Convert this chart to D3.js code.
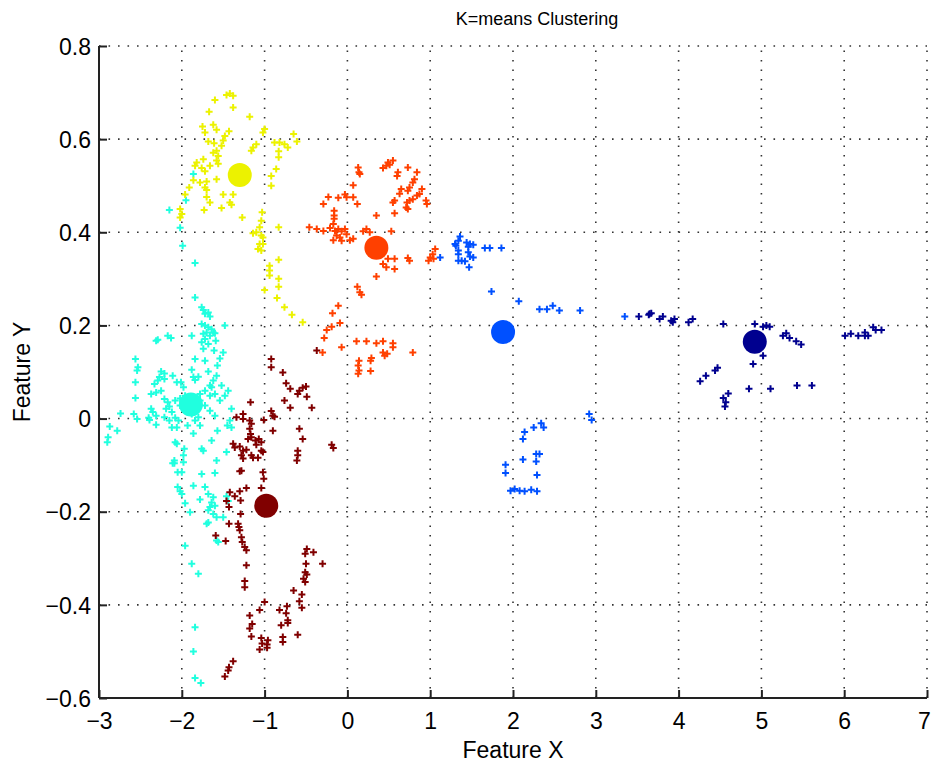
<!DOCTYPE html>
<html>
<head>
<meta charset="utf-8">
<script src="https://cdn.jsdelivr.net/npm/d3@7"></script>
<style>
    body { margin: 0; background: #fff; }
    text { font-family: "Liberation Sans", Arial, sans-serif; fill: #000; }
</style>
</head>
<body>
<script>
// tick values
var xTicks = [-3, -2, -1, 0, 1, 2, 3, 4, 5, 6, 7]
var yTicks = [-0.6, -0.4, -0.2, 0, 0.2, 0.4, 0.6, 0.8]

// cluster colours (jet-like) and centroids
var clusterColors = ["#00008f", "#0050ff", "#20ffdf", "#ecf200", "#ff4000", "#800000"]
var centroids = [[4.92, 0.165], [1.88, 0.186], [-1.89, 0.030], [-1.30, 0.523], [0.35, 0.367], [-0.98, -0.187]]

var navyPts = [[3.52,0.219],[3.65,0.225],[3.67,0.226],[3.64,0.223],[3.77,0.214],[3.81,0.219],[3.91,0.210],[3.93,0.207],[3.95,0.214],[4.12,0.207],[4.17,0.214],[4.54,0.203],[4.92,0.203],[5.02,0.197],[5.06,0.200],[5.10,0.197],[5.26,0.178],[5.30,0.183],[5.34,0.173],[5.42,0.166],[5.48,0.159],[5.02,0.135],[4.90,0.117],[4.44,0.103],[4.47,0.109],[4.33,0.092],[4.26,0.080],[4.60,0.054],[4.54,0.044],[4.57,0.035],[4.56,0.026],[4.85,0.064],[5.11,0.064],[5.43,0.071],[5.61,0.071],[6.01,0.178],[6.08,0.182],[6.17,0.178],[6.25,0.185],[6.25,0.178],[6.29,0.178],[6.35,0.196],[6.38,0.190],[6.45,0.190]]

var bluePts = [[1.30,0.375],[1.34,0.382],[1.36,0.391],[1.31,0.371],[1.44,0.378],[1.48,0.375],[1.52,0.373],[1.46,0.369],[1.34,0.361],[1.34,0.353],[1.34,0.339],[1.38,0.339],[1.42,0.338],[1.46,0.357],[1.48,0.348],[1.52,0.346],[1.47,0.325],[1.66,0.366],[1.72,0.366],[1.86,0.366],[1.12,0.346],[1.74,0.273],[2.07,0.252],[2.32,0.235],[2.41,0.235],[2.48,0.242],[2.56,0.232],[2.81,0.232],[3.35,0.219],[2.92,0.010],[2.95,-0.003],[2.34,-0.010],[2.37,-0.019],[2.25,-0.019],[2.14,-0.029],[2.12,-0.044],[2.28,-0.076],[2.32,-0.076],[2.28,-0.092],[2.12,-0.088],[1.91,-0.099],[1.91,-0.117],[2.29,-0.121],[1.97,-0.155],[2.02,-0.151],[2.08,-0.155],[2.14,-0.156],[2.22,-0.153],[2.29,-0.156]]

var cyanPts = [[-1.86,0.525],[-1.95,0.469],[-2.15,0.448],[-2.02,0.410],[-1.99,0.371],[-1.84,0.334],[-1.84,0.260],[-1.76,0.239],[-1.74,0.233],[-1.68,0.228],[-1.72,0.225],[-1.66,0.219],[-1.76,0.203],[-1.72,0.200],[-1.68,0.196],[-1.64,0.192],[-1.62,0.185],[-1.70,0.185],[-1.74,0.182],[-1.66,0.178],[-1.60,0.183],[-1.72,0.171],[-1.76,0.164],[-1.68,0.160],[-1.74,0.150],[-1.48,0.200],[-1.88,0.178],[-2.31,0.167],[-2.29,0.169],[-2.17,0.178],[-2.13,0.173],[-1.50,0.142],[-2.56,0.128],[-2.53,0.110],[-2.54,0.103],[-1.84,0.128],[-1.72,0.124],[-1.68,0.101],[-1.88,0.105],[-2.25,0.101],[-2.21,0.097],[-2.27,0.089],[-2.29,0.082],[-2.33,0.074],[-2.21,0.085],[-2.11,0.092],[-1.86,0.089],[-1.80,0.090],[-1.84,0.083],[-1.62,0.082],[-1.58,0.092],[-1.64,0.067],[-1.60,0.053],[-1.66,0.049],[-1.72,0.060],[-1.78,0.053],[-2.56,0.078],[-2.06,0.078],[-2.37,0.053],[-2.31,0.056],[-2.25,0.060],[-2.01,0.078],[-1.98,0.067],[-2.21,0.042],[-2.17,0.035],[-2.15,0.026],[-2.19,0.021],[-2.12,0.014],[-2.56,0.044],[-2.37,0.021],[-2.35,0.014],[-1.40,0.021],[-2.74,0.011],[-2.58,0.010],[-2.54,-0.001],[-2.40,0.002],[-2.39,-0.003],[-2.31,0.006],[-2.31,-0.013],[-2.21,0.003],[-2.15,-0.004],[-2.08,0.002],[-2.06,-0.019],[-2.12,-0.019],[-2.04,-0.004],[-1.84,-0.004],[-1.80,0.003],[-1.88,0.010],[-1.42,-0.004],[-1.45,-0.015],[-1.40,-0.019],[-2.87,-0.017],[-2.89,-0.040],[-2.90,-0.051],[-2.78,-0.026],[-1.86,-0.032],[-2.08,-0.051],[-2.06,-0.054],[-1.76,-0.065],[-1.74,-0.069],[-1.97,-0.065],[-1.98,-0.079],[-1.46,-0.072],[-2.09,-0.090],[-2.09,-0.096],[-2.11,-0.096],[-1.98,-0.094],[-1.58,-0.090],[-2.05,-0.115],[-2.00,-0.115],[-1.76,-0.119],[-1.60,-0.117],[-1.86,-0.144],[-2.05,-0.147],[-2.02,-0.156],[-2.00,-0.162],[-1.68,-0.162],[-1.62,-0.169],[-1.64,-0.180],[-1.60,-0.187],[-1.66,-0.190],[-1.68,-0.197],[-1.62,-0.205],[-1.58,-0.212],[-1.72,-0.147],[-1.78,-0.174],[-1.96,-0.182],[-1.90,-0.201],[-1.50,-0.212],[-1.46,-0.167],[-1.44,-0.177],[-1.70,-0.226],[-1.68,-0.223],[-1.58,-0.262],[-1.56,-0.265],[-1.96,-0.273],[-1.88,-0.312],[-1.80,-0.333],[-1.84,-0.448],[-1.86,-0.500],[-1.84,-0.557],[-1.77,-0.568],[-2.08,0.039],[-2.02,0.028],[-1.96,0.017],[-1.54,0.039],[-1.48,0.049],[-1.44,0.060],[-1.52,0.071],[-1.72,0.028],[-1.66,0.017],[-1.60,0.006],[-1.78,-0.015],[-1.93,-0.015],[-1.57,-0.026],[-1.64,-0.047],[-1.96,0.049],[-1.78,0.039],[-2.02,0.043],[-1.84,0.028],[-1.66,0.071],[-1.57,0.114],[-1.54,0.129],[-1.61,0.146],[-1.59,0.167]]

var yellowPts = [[-1.60,0.684],[-1.46,0.695],[-1.42,0.698],[-1.38,0.693],[-1.38,0.668],[-1.67,0.659],[-1.18,0.648],[-1.75,0.627],[-1.72,0.614],[-1.62,0.631],[-1.58,0.620],[-1.48,0.607],[-1.43,0.617],[-1.50,0.597],[-1.00,0.622],[-1.02,0.614],[-0.65,0.611],[-0.61,0.595],[-0.88,0.593],[-0.82,0.593],[-0.76,0.589],[-0.72,0.582],[-1.68,0.595],[-1.61,0.591],[-1.14,0.582],[-1.10,0.589],[-1.16,0.575],[-1.52,0.586],[-1.58,0.575],[-1.62,0.571],[-1.56,0.564],[-0.83,0.574],[-0.83,0.561],[-1.74,0.557],[-1.82,0.550],[-1.84,0.543],[-1.58,0.554],[-1.56,0.547],[-1.66,0.543],[-1.76,0.538],[-1.72,0.531],[-0.86,0.536],[-0.92,0.521],[-0.92,0.500],[-1.86,0.512],[-1.78,0.507],[-1.70,0.509],[-1.72,0.496],[-1.70,0.491],[-1.91,0.496],[-1.58,0.514],[-1.96,0.481],[-1.70,0.476],[-1.50,0.481],[-1.38,0.481],[-1.66,0.464],[-1.42,0.464],[-1.40,0.459],[-1.73,0.448],[-1.52,0.452],[-2.02,0.450],[-2.00,0.439],[-2.02,0.432],[-1.27,0.432],[-1.03,0.443],[-1.04,0.425],[-1.06,0.411],[-1.10,0.400],[-1.14,0.398],[-1.04,0.393],[-1.02,0.389],[-1.06,0.375],[-1.08,0.364],[-1.04,0.361],[-1.02,0.375],[-0.83,0.411],[-0.83,0.341],[-0.94,0.328],[-0.94,0.318],[-0.94,0.307],[-0.83,0.300],[-0.83,0.283],[-1.00,0.276],[-0.85,0.259],[-0.76,0.239],[-0.67,0.223],[-0.54,0.207]]

var orangePts = [[0.13,0.539],[0.14,0.529],[0.15,0.525],[0.49,0.550],[0.51,0.545],[0.47,0.543],[0.43,0.538],[0.55,0.554],[0.61,0.529],[0.60,0.521],[0.73,0.539],[0.84,0.529],[0.81,0.514],[0.79,0.507],[0.07,0.501],[0.75,0.496],[0.73,0.489],[0.65,0.493],[0.63,0.483],[0.90,0.493],[0.87,0.482],[0.84,0.479],[0.79,0.471],[0.75,0.468],[0.72,0.464],[0.95,0.468],[0.96,0.461],[0.57,0.468],[0.55,0.464],[-0.03,0.481],[-0.01,0.475],[-0.11,0.474],[-0.23,0.476],[-0.29,0.461],[0.07,0.475],[0.12,0.461],[0.71,0.453],[0.73,0.450],[-0.16,0.446],[-0.16,0.436],[-0.16,0.429],[0.57,0.441],[0.35,0.436],[-0.46,0.411],[-0.37,0.407],[-0.29,0.403],[-0.21,0.409],[-0.17,0.418],[-0.15,0.403],[-0.11,0.407],[-0.07,0.402],[-0.03,0.407],[-0.01,0.396],[-0.13,0.393],[-0.09,0.389],[-0.17,0.383],[-0.07,0.382],[0.03,0.383],[0.07,0.386],[0.19,0.402],[0.23,0.407],[0.27,0.400],[0.53,0.402],[0.49,0.343],[0.57,0.343],[0.43,0.332],[0.47,0.325],[0.57,0.321],[0.73,0.345],[0.75,0.339],[0.35,0.305],[1.06,0.364],[1.03,0.353],[1.00,0.346],[0.98,0.339],[1.04,0.343],[0.12,0.283],[0.15,0.271],[0.17,0.266],[-0.11,0.242],[-0.18,0.226],[-0.09,0.205],[-0.19,0.197],[-0.25,0.190],[-0.28,0.173],[0.11,0.166],[0.23,0.166],[0.35,0.162],[0.43,0.166],[0.55,0.162],[0.55,0.153],[-0.07,0.153],[-0.30,0.142],[0.43,0.142],[0.45,0.135],[0.48,0.139],[0.29,0.130],[0.28,0.124],[0.79,0.142],[0.14,0.124],[0.13,0.114],[0.14,0.103],[0.13,0.096],[0.28,0.102]]

var darkRedPts = [[-0.78,0.099],[-0.74,0.076],[-0.69,0.064],[-0.58,0.060],[-0.54,0.066],[-0.50,0.069],[-0.60,0.053],[-0.49,0.047],[-1.17,0.035],[-0.76,0.039],[-0.69,0.023],[-0.43,0.023],[-0.92,0.016],[-0.90,0.006],[-0.88,0.004],[-1.26,0.010],[-1.34,0.003],[-1.18,-0.004],[-1.26,-0.001],[-1.16,-0.011],[-1.01,-0.003],[-0.58,-0.022],[-0.90,-0.026],[-0.54,-0.044],[-1.18,-0.022],[-1.17,-0.033],[-1.20,-0.044],[-1.16,-0.040],[-1.11,-0.047],[-1.07,-0.044],[-1.04,-0.051],[-1.10,-0.056],[-1.38,-0.054],[-1.36,-0.062],[-1.30,-0.060],[-1.26,-0.069],[-1.22,-0.067],[-1.04,-0.069],[-1.02,-0.072],[-1.28,-0.079],[-1.26,-0.086],[-1.16,-0.079],[-1.14,-0.084],[-1.08,-0.084],[-0.19,-0.056],[-0.17,-0.063],[-0.60,-0.069],[-0.60,-0.079],[-0.61,-0.090],[-1.28,-0.112],[-1.30,-0.113],[-1.02,-0.115],[-1.01,-0.129],[-1.04,-0.149],[-1.22,-0.149],[-1.30,-0.156],[-1.42,-0.158],[-1.36,-0.167],[-1.46,-0.177],[-1.43,-0.190],[-1.29,-0.176],[-1.29,-0.205],[-1.43,-0.226],[-1.32,-0.226],[-1.31,-0.233],[-1.30,-0.240],[-1.47,-0.263],[-1.59,-0.251],[-1.28,-0.255],[-1.27,-0.265],[-1.24,-0.276],[-1.22,-0.283],[-0.49,-0.280],[-0.51,-0.290],[-0.41,-0.287],[-0.50,-0.312],[-0.30,-0.312],[-1.22,-0.315],[-0.51,-0.330],[-0.49,-0.335],[-0.53,-0.344],[-0.51,-0.351],[-1.24,-0.349],[-1.24,-0.362],[-0.65,-0.369],[-0.55,-0.378],[-0.58,-0.392],[-0.55,-0.406],[-1.00,-0.394],[-1.06,-0.411],[-0.82,-0.411],[-0.73,-0.403],[-0.74,-0.418],[-0.72,-0.433],[-0.72,-0.439],[-0.80,-0.444],[-1.18,-0.423],[-1.15,-0.441],[-1.18,-0.451],[-1.16,-0.468],[-0.60,-0.464],[-0.78,-0.469],[-0.78,-0.480],[-1.04,-0.471],[-1.03,-0.483],[-1.06,-0.496],[-0.97,-0.485],[-0.97,-0.492],[-0.96,-0.476],[-1.38,-0.521],[-1.43,-0.534],[-1.44,-0.541],[-1.48,-0.554],[-0.92,0.128],[-0.92,0.110],[-0.37,0.146]]

var clusters = [navyPts, bluePts, cyanPts, yellowPts, orangePts, darkRedPts]

document.addEventListener('DOMContentLoaded', function () {
    const width = 931
    const height = 767
    const margin = { left: 99, right: 4, top: 46, bottom: 69 }

    var svg = d3.select("body")
        .append("svg")
        .attr("width", width)
        .attr("height", height)

    //scales
    var xScale = d3.scaleLinear()
        .domain([-3, 7])
        .range([margin.left, width - margin.right])
    var yScale = d3.scaleLinear()
        .domain([-0.6, 0.8])
        .range([height - margin.bottom, margin.top])

    var x0 = xScale.range()[0], x1 = xScale.range()[1]
    var y0 = yScale.range()[0], y1 = yScale.range()[1]

    //dotted grid
    var grid = svg.append("g")
        .attr("stroke", "#333")
        .attr("stroke-width", 1.6)
        .attr("stroke-dasharray", "1.6,7.9")
    grid.selectAll(".gx")
        .data(xTicks.slice(1))
        .enter()
        .append("line")
        .attr("x1", d => xScale(d)).attr("x2", d => xScale(d))
        .attr("y1", y0).attr("y2", y1)
    grid.selectAll(".gy")
        .data(yTicks.slice(1))
        .enter()
        .append("line")
        .attr("y1", d => yScale(d)).attr("y2", d => yScale(d))
        .attr("x1", x0).attr("x2", x1)

    //axes, ticks pointing inward
    var xAxis = d3.axisBottom(xScale)
        .tickValues(xTicks)
        .tickSize(-8)
        .tickPadding(15)
        .tickFormat(d3.format("d"))
    var yAxis = d3.axisLeft(yScale)
        .tickValues(yTicks)
        .tickSize(-8)
        .tickPadding(8)
        .tickFormat(d => d === 0 ? "0" : d3.format(".1f")(d))

    var gx = svg.append("g")
        .attr("transform", "translate(0," + y0 + ")")
        .call(xAxis)
    var gy = svg.append("g")
        .attr("transform", "translate(" + x0 + ",0)")
        .call(yAxis)

    ;[gx, gy].forEach(function (g) {
        g.selectAll(".tick line").attr("stroke", "#222").attr("stroke-width", 2)
        g.selectAll(".tick text")
            .style("font-size", "23px")
            .style("font-family", "'Liberation Sans', Arial, sans-serif")
            .attr("fill", "#000")
    })
    gx.select(".domain").attr("stroke", "#222").attr("stroke-width", 2).attr("d", "M" + x0 + ",0H" + x1)
    gy.select(".domain").attr("stroke", "#222").attr("stroke-width", 2).attr("d", "M0," + y0 + "V" + y1)
    gy.selectAll(".tick text").attr("dy", "0.36em")
    // keep the last x label inside the window
    gx.selectAll(".tick text").filter(d => d === 7).attr("dx", -3)

    //plus markers per cluster
    clusters.forEach(function (pts, i) {
        svg.append("g")
            .selectAll("path")
            .data(pts)
            .enter()
            .append("path")
            .attr("d", d => "M" + (xScale(d[0]) - 3.5) + "," + yScale(d[1]) + "h7M" + xScale(d[0]) + "," + (yScale(d[1]) - 3.5) + "v7")
            .attr("stroke", clusterColors[i])
            .attr("stroke-width", 2)
    })

    //centroids
    svg.selectAll(".centroid")
        .data(centroids)
        .enter()
        .append("circle")
        .attr("class", "centroid")
        .attr("cx", d => xScale(d[0]))
        .attr("cy", d => yScale(d[1]))
        .attr("r", 12)
        .attr("fill", (d, i) => clusterColors[i])

    //title and labels
    svg.append("text")
        .attr("text-anchor", "middle")
        .attr("x", 537)
        .attr("y", 25)
        .style("font-size", "18px")
        .text("K=means Clustering")

    svg.append("text")
        .attr("text-anchor", "middle")
        .attr("x", (x0 + x1) / 2)
        .attr("y", 758)
        .style("font-size", "23px")
        .text("Feature X")

    svg.append("text")
        .attr("text-anchor", "middle")
        .attr("transform", "rotate(-90)")
        .attr("x", -(y0 + y1) / 2)
        .attr("y", 30)
        .style("font-size", "23px")
        .text("Feature Y")
})
</script>
</body>
</html>
